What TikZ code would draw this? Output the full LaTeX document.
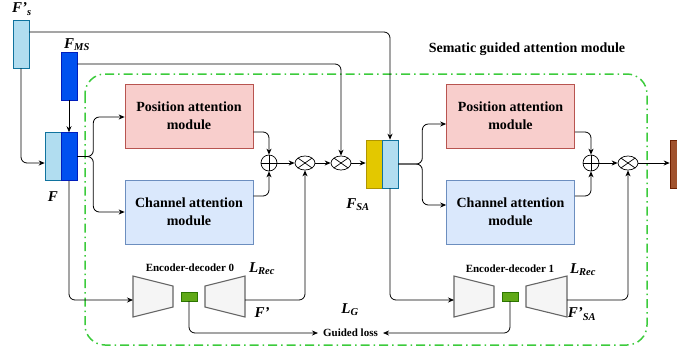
\documentclass[tikz,border=0pt]{standalone}
\usepackage{fontspec}
\setmainfont{Liberation Serif}
\usetikzlibrary{arrows.meta,shapes.geometric,calc}
\definecolor{ltbF}{HTML}{B1DDF0}\definecolor{ltbD}{HTML}{10739E}
\definecolor{dkbF}{HTML}{0050EF}\definecolor{dkbD}{HTML}{001DBC}
\definecolor{pinkF}{HTML}{F8CECC}\definecolor{pinkD}{HTML}{B85450}
\definecolor{cblF}{HTML}{DAE8FC}\definecolor{cblD}{HTML}{6C8EBF}
\definecolor{yelF}{HTML}{E3C800}\definecolor{yelD}{HTML}{B09500}
\definecolor{brnF}{HTML}{A0522D}\definecolor{brnD}{HTML}{6D1F00}
\definecolor{grnF}{HTML}{60A917}\definecolor{grnD}{HTML}{2D7600}
\definecolor{trapF}{HTML}{F5F5F5}\definecolor{trapD}{HTML}{666666}
\definecolor{frameG}{HTML}{3CCB3C}
\begin{document}
\begin{tikzpicture}[x=1pt,y=-1pt,
  bar/.style={draw, minimum width=16pt, minimum height=48pt, inner sep=0pt, line width=0.6pt},
  ltb/.style={bar, fill=ltbF, draw=ltbD},
  dkb/.style={bar, fill=dkbF, draw=dkbD},
  modbox/.style={draw, line width=0.7pt, minimum width=128pt, minimum height=64pt, inner sep=0pt, align=center,
    font=\bfseries\fontsize{14}{18}\selectfont},
  posbox/.style={modbox, fill=pinkF, draw=pinkD},
  chbox/.style={modbox, fill=cblF, draw=cblD},
  otimesnode/.style={ellipse, draw, line width=0.7pt, minimum width=20pt, minimum height=14pt, inner sep=0pt,
    path picture={\draw[line width=0.7pt] (path picture bounding box.north west) -- (path picture bounding box.south east)
      (path picture bounding box.south west) -- (path picture bounding box.north east);}},
  oplusnode/.style={circle, draw, line width=0.7pt, minimum size=16pt, inner sep=0pt,
    path picture={\draw[line width=0.7pt] (path picture bounding box.north) -- (path picture bounding box.south)
      (path picture bounding box.west) -- (path picture bounding box.east);}},
  trap/.style={fill=trapF, draw=trapD, line width=1.1pt, line join=miter},
  grect/.style={draw=grnD, fill=grnF, minimum width=16pt, minimum height=9pt, inner sep=0pt, line width=0.5pt},
  conn/.style={line width=0.8pt, rounded corners=6pt},
  arr/.style={conn, -{Stealth[length=6pt,width=5pt]}},
  lbl/.style={font=\bfseries\itshape\fontsize{15}{15}\selectfont, inner sep=0pt},
  small/.style={font=\bfseries\fontsize{11}{13}\selectfont, inner sep=0pt},
]
\useasboundingbox (0,0) rectangle (677,354);

% frame
\draw[frameG, line width=1.5pt, rounded corners=20pt, dash pattern=on 9pt off 4pt on 1.5pt off 4pt]
  (85,74) rectangle (647,345);
\node[font=\bfseries\fontsize{14}{16}\selectfont] (title) at (527,49) {Sematic guided attention module};

% bars
\node[ltb] (Fs) at (21,44) {};
\node[dkb] (FMS) at (69,76) {};
\node[ltb] (Fl) at (53,156.5) {};
\node[dkb] (Fd) at (69,156.5) {};
\node[bar, fill=yelF, draw=yelD] (SAy) at (374,164) {};
\node[ltb] (SAb) at (390,164) {};
\node[bar, fill=brnF, draw=brnD] (out) at (678,164) {};

% labels
\node[lbl] (lFs) at (22,9) {F'\textsubscript{s}};
\node[lbl] (lFMS) at (77,45) {F\textsubscript{MS}};
\node[lbl] (lF) at (53,197) {F};
\node[lbl] (lFSA) at (358,205) {F\textsubscript{SA}};
\node[lbl] (lLR0) at (262,269) {L\textsubscript{Rec}};
\node[lbl] (lFp) at (262,313) {F'};
\node[lbl] (lLG) at (350,310) {L\textsubscript{G}};
\node[lbl] (lLR1) at (583,270) {L\textsubscript{Rec}};
\node[lbl] (lFpSA) at (582,314) {F'\textsubscript{SA}};

% modules
\node[posbox] (pos1) at (189,116) {Position attention\\module};
\node[chbox] (ch1) at (189,212) {Channel attention\\module};
\node[posbox] (pos2) at (510.5,116) {Position attention\\module};
\node[chbox] (ch2) at (510.5,212) {Channel attention\\module};

% operators
\node[oplusnode] (plus1) at (269,163) {};
\node[otimesnode] (ot1) at (305,163) {};
\node[otimesnode] (ot2) at (341,163) {};
\node[oplusnode] (plus2) at (591,163) {};
\node[otimesnode] (ot3) at (628,163) {};

% encoder-decoders
\draw[trap] (133,276) -- (173,286) -- (173,307) -- (133,317) -- cycle;
\draw[trap] (205,286) -- (245,276) -- (245,317) -- (205,307) -- cycle;
\node[grect] (g0) at (189,296.5) {};
\node[small] (ed0) at (190,268) {Encoder-decoder 0};
\coordinate (e0in) at (133,300);
\coordinate (d0out) at (245,300);

\draw[trap] (454,276) -- (494,286) -- (494,307) -- (454,317) -- cycle;
\draw[trap] (526,286) -- (567,276) -- (567,317) -- (526,307) -- cycle;
\node[grect] (g1) at (510,296.5) {};
\node[small] (ed1) at (510,269) {Encoder-decoder 1};
\coordinate (e1in) at (454,300);
\coordinate (d1out) at (567,300);

\node[small, inner xsep=5pt] (gl) at (350.5,333) {Guided loss};

% connectors
\draw[arr] (Fs.south) |- ([yshift=-6.5pt]Fl.west);
\draw[arr] ([yshift=12pt]Fs.east) -| (SAb.north);
\draw[arr] ([yshift=12pt]FMS.east) -| (ot2.north);
\draw[arr] (FMS.south) -- (Fd.north);

\draw[arr] (Fd.east) -- ++(16,0) |- ([yshift=-1pt]pos1.west);
\draw[arr] (Fd.east) -- ++(16,0) |- (ch1.west);
\draw[arr] ([yshift=-16pt]pos1.east) -| (plus1.north);
\draw[arr] ([yshift=16pt]ch1.east) -| (plus1.south);
\draw[arr] (plus1.east) -- (ot1.west);
\draw[arr] (ot1.east) -- (ot2.west);
\draw[arr] (ot2.east) -- ([yshift=1pt]SAy.west);

\draw[arr] (Fd.south) |- (e0in);
\draw[arr] (d0out) -| (ot1.south);
\draw[arr] (g0.south) |- (gl.west);

\draw[arr] (SAb.east) -- ++(24,0) |- ([yshift=-8pt]pos2.west);
\draw[arr] (SAb.east) -- ++(24,0) |- ([yshift=7pt]ch2.west);
\draw[arr] ([yshift=-16pt]pos2.east) -| (plus2.north);
\draw[arr] ([yshift=16pt]ch2.east) -| (plus2.south);
\draw[arr] (plus2.east) -- (ot3.west);
\draw[arr] (ot3.east) -- ([yshift=1pt]out.west);

\draw[arr] (SAb.south) |- (e1in);
\draw[arr] (d1out) -| (ot3.south);
\draw[arr] (g1.south) |- (gl.east);
\end{tikzpicture}
\end{document}
